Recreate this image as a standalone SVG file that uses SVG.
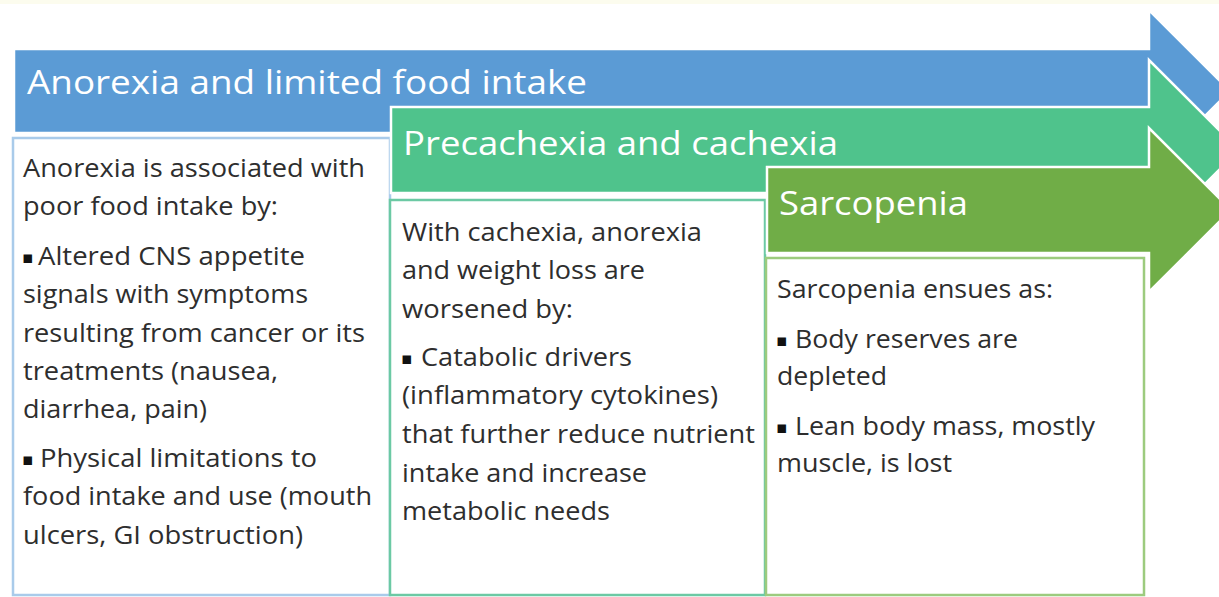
<svg xmlns="http://www.w3.org/2000/svg" width="1219" height="597" viewBox="0 0 1219 597">
<style>
.hd{font-family:"Open Sans","Liberation Sans",sans-serif;font-size:33px;fill:#ffffff}
.tx{font-family:"Open Sans","Liberation Sans",sans-serif;font-size:25px;fill:#2e2e2e}
.bu{font-family:"DejaVu Sans",sans-serif;font-size:17px;fill:#111111}
.arr{stroke:#ffffff;stroke-width:2.5;stroke-linejoin:miter}
.box{fill:#ffffff;stroke-width:2.5}
</style>
<rect x="0" y="0" width="1219" height="597" fill="#ffffff"/>
<rect x="0" y="0" width="1219" height="4" fill="#fcfcee"/>
<g id="stage-anorexia">
  <polygon class="arr" fill="#5b9bd5" points="14,49 1149,49 1149,10 1230,91 1149,172 1149,133 14,133"/>
  <rect class="box" x="13" y="138" width="377" height="457" stroke="#a9cbea"/>
  <text class="hd" x="27" y="94" textLength="560" lengthAdjust="spacingAndGlyphs">Anorexia and limited food intake</text>
  <text class="tx" x="23" y="177" textLength="342" lengthAdjust="spacingAndGlyphs">Anorexia is associated with</text>
  <text class="tx" x="23" y="215" textLength="255" lengthAdjust="spacingAndGlyphs">poor food intake by:</text>
  <text class="bu" x="22" y="263">▪</text>
  <text class="tx" x="38" y="265" textLength="267" lengthAdjust="spacingAndGlyphs">Altered CNS appetite</text>
  <text class="tx" x="23" y="303" textLength="285" lengthAdjust="spacingAndGlyphs">signals with symptoms</text>
  <text class="tx" x="23" y="342" textLength="342" lengthAdjust="spacingAndGlyphs">resulting from cancer or its</text>
  <text class="tx" x="23" y="380" textLength="255" lengthAdjust="spacingAndGlyphs">treatments (nausea,</text>
  <text class="tx" x="23" y="418" textLength="184" lengthAdjust="spacingAndGlyphs">diarrhea, pain)</text>
  <text class="bu" x="22" y="465">▪</text>
  <text class="tx" x="40" y="467" textLength="277" lengthAdjust="spacingAndGlyphs">Physical limitations to</text>
  <text class="tx" x="23" y="505" textLength="349" lengthAdjust="spacingAndGlyphs">food intake and use (mouth</text>
  <text class="tx" x="23" y="544" textLength="280" lengthAdjust="spacingAndGlyphs">ulcers, GI obstruction)</text>
</g>
<g id="stage-cachexia">
  <polygon class="arr" fill="#4fc38c" points="391,107 1149,107 1149,60 1239,150 1149,240 1149,193 391,193"/>
  <rect class="box" x="390" y="200" width="375" height="395" stroke="#6cc9a4"/>
  <text class="hd" x="403" y="155" textLength="435" lengthAdjust="spacingAndGlyphs">Precachexia and cachexia</text>
  <text class="tx" x="402" y="241" textLength="300" lengthAdjust="spacingAndGlyphs">With cachexia, anorexia</text>
  <text class="tx" x="402" y="279" textLength="243" lengthAdjust="spacingAndGlyphs">and weight loss are</text>
  <text class="tx" x="402" y="318" textLength="171" lengthAdjust="spacingAndGlyphs">worsened by:</text>
  <text class="bu" x="401" y="364">▪</text>
  <text class="tx" x="421" y="366" textLength="211" lengthAdjust="spacingAndGlyphs">Catabolic drivers</text>
  <text class="tx" x="402" y="404" textLength="316" lengthAdjust="spacingAndGlyphs">(inflammatory cytokines)</text>
  <text class="tx" x="402" y="443" textLength="353" lengthAdjust="spacingAndGlyphs">that further reduce nutrient</text>
  <text class="tx" x="402" y="482" textLength="245" lengthAdjust="spacingAndGlyphs">intake and increase</text>
  <text class="tx" x="402" y="520" textLength="208" lengthAdjust="spacingAndGlyphs">metabolic needs</text>
</g>
<g id="stage-sarcopenia">
  <polygon class="arr" fill="#70ad47" points="767,167 1149,167 1149,128 1231,210 1149,292 1149,253 767,253"/>
  <rect class="box" x="766" y="258" width="378" height="337" stroke="#9ccb7e"/>
  <text class="hd" x="779" y="215" textLength="189" lengthAdjust="spacingAndGlyphs">Sarcopenia</text>
  <text class="tx" x="777" y="298" textLength="276" lengthAdjust="spacingAndGlyphs">Sarcopenia ensues as:</text>
  <text class="bu" x="776" y="346">▪</text>
  <text class="tx" x="795" y="348" textLength="223" lengthAdjust="spacingAndGlyphs">Body reserves are</text>
  <text class="tx" x="777" y="385" textLength="110" lengthAdjust="spacingAndGlyphs">depleted</text>
  <text class="bu" x="776" y="433">▪</text>
  <text class="tx" x="795" y="435" textLength="300" lengthAdjust="spacingAndGlyphs">Lean body mass, mostly</text>
  <text class="tx" x="777" y="472" textLength="175" lengthAdjust="spacingAndGlyphs">muscle, is lost</text>
</g>
<g id="connectors"/>
</svg>
